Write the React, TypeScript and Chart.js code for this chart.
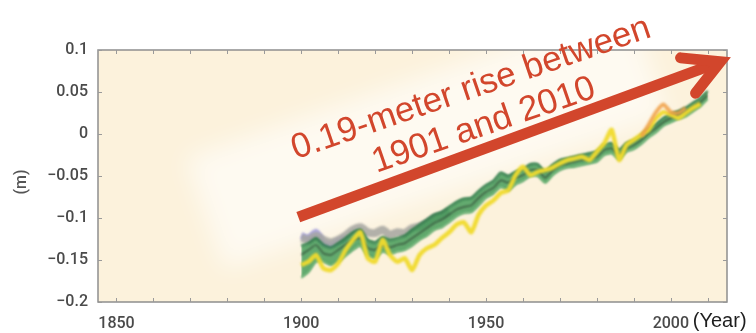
import React, { useEffect, useRef } from 'react';
import { Chart, registerables } from 'chart.js';

Chart.register(...registerables);

// ---------- data ----------
const years = [
  1900, 1902, 1904, 1906, 1908, 1910, 1912, 1914, 1916, 1918,
  1920, 1922, 1924, 1926, 1928, 1930, 1932, 1934, 1936, 1938,
  1940, 1942, 1944, 1946, 1948, 1950, 1952, 1954, 1956, 1958,
  1960, 1962, 1964, 1966, 1968, 1970, 1972, 1974, 1976, 1978,
  1980, 1982, 1984, 1986, 1988, 1990, 1992, 1994, 1996, 1998,
  2000, 2002, 2004, 2006, 2008, 2010,
];

const greenUpper = [
  -0.133, -0.130, -0.124, -0.132, -0.135, -0.130, -0.124, -0.117, -0.114, -0.126,
  -0.129, -0.123, -0.126, -0.124, -0.121, -0.114, -0.108, -0.102, -0.096, -0.093,
  -0.087, -0.081, -0.077, -0.076, -0.068, -0.061, -0.056, -0.046, -0.050, -0.045,
  -0.042, -0.036, -0.036, -0.045, -0.037, -0.031, -0.029, -0.027, -0.025, -0.023,
  -0.021, -0.013, -0.011, -0.019, -0.011, -0.008, -0.002, 0.006, 0.012, 0.019,
  0.024, 0.027, 0.031, 0.037, 0.043, 0.051,
];

const greenLower = [
  -0.171, -0.164, -0.152, -0.152, -0.156, -0.152, -0.145, -0.138, -0.133, -0.145,
  -0.148, -0.140, -0.143, -0.140, -0.138, -0.133, -0.126, -0.121, -0.114, -0.111,
  -0.105, -0.098, -0.094, -0.093, -0.085, -0.076, -0.071, -0.063, -0.067, -0.060,
  -0.056, -0.050, -0.050, -0.058, -0.049, -0.043, -0.040, -0.039, -0.037, -0.035,
  -0.033, -0.025, -0.023, -0.030, -0.021, -0.018, -0.012, -0.004, 0.002, 0.010,
  0.014, 0.018, 0.021, 0.027, 0.033, 0.042,
];

const blackSeries = [
  -0.144, -0.138, -0.132, -0.142, -0.144, -0.138, -0.132, -0.126, -0.124, -0.136,
  -0.138, -0.132, -0.135, -0.132, -0.130, -0.124, -0.118, -0.112, -0.106, -0.102,
  -0.096, -0.090, -0.087, -0.085, -0.076, -0.069, -0.064, -0.055, -0.058, -0.052,
  -0.049, -0.043, -0.043, -0.052, -0.043, -0.037, -0.035, -0.033, -0.031, -0.029,
  -0.027, -0.019, -0.017, -0.025, -0.017, -0.013, -0.007, 0.001, 0.007, 0.014,
  0.019, 0.023, 0.026, 0.032, 0.038, 0.046,
];

const yellowSeries = [
  -0.156, -0.152, -0.144, -0.160, -0.162, -0.154, -0.138, -0.126, -0.117, -0.148,
  -0.152, -0.126, -0.144, -0.152, -0.148, -0.162, -0.144, -0.136, -0.132, -0.124,
  -0.117, -0.108, -0.105, -0.117, -0.096, -0.085, -0.079, -0.070, -0.067, -0.049,
  -0.039, -0.049, -0.045, -0.043, -0.040, -0.035, -0.031, -0.029, -0.027, -0.031,
  -0.021, -0.011, 0.005, -0.031, -0.013, -0.007, -0.001, 0.005, 0.019, 0.026,
  0.023, 0.019, 0.025, 0.031, 0.036, null,
];

const graySeries = [
  -0.124, -0.126, -0.121, -0.126, -0.129, -0.126, -0.121, -0.114, -0.111, -0.117,
  -0.118, -0.114, -0.120, -0.117, -0.118, -0.112, -0.110, -0.106, -0.100, -0.097,
  -0.092, null, null, null, null, null, null, null, null, null,
  null, null, null, null, null, null, null, null, null, null,
  null, null, null, null, null, null, null, null, null, null,
  null, null, null, null, null, null,
];

const purpleSeries = [
  -0.121, -0.124, -0.117, -0.129, -0.132, -0.128, -0.124, null, null, null,
  null, null, null, null, null, null, null, null, null, null,
  null, null, null, null, null, null, null, null, null, null,
  null, null, null, null, null, null, null, null, null, null,
  null, null, null, null, null, null, null, null, null, null,
  null, null, null, null, null, null,
];

const orangeSeries = [
  null, null, null, null, null, null, null, null, null, null,
  null, null, null, null, null, null, null, null, null, null,
  null, null, null, null, null, null, null, null, null, null,
  null, null, null, null, null, null, null, null, null, null,
  null, null, null, null, null, null, -0.003, 0.011, 0.026, 0.035,
  0.026, 0.025, 0.031, null, null, null,
];

const xTickYears = [1850, 1860, 1870, 1880, 1890, 1900, 1910, 1920, 1930, 1940, 1950, 1960, 1970, 1980, 1990, 2000, 2010];
const xLabelYears = [1850, 1900, 1950, 2000];
const yTickValues = [-0.2, -0.15, -0.1, -0.05, 0, 0.05, 0.1];

const annotationLines = ['0.19-meter rise between', '1901 and 2010'];
const yAxisTitle = '(m)';
const xAxisTitle = '(Year)';

// ---------- styling ----------
const X_MIN = 1845;
const X_MAX = 2015.2;
const Y_MIN = -0.2;
const Y_MAX = 0.1;
const PLOT_BG = '#fcf2dc';
const FRAME = '#8e8e8e';
const RED = '#d2462c';
const TICK_FONT = "Roboto, 'Noto Sans', sans-serif";
const ARROW_FROM = { x: 1899.2, y: -0.099 };
const ARROW_TO = { x: 2013.4, y: 0.086 };
const TEXT_ANCHOR = { x: 1946.8, y: 0.043 };

const toPts = (vals: (number | null)[]) => years.map((x, i) => ({ x, y: vals[i] }));

const fmtY = (v: number) => {
  const r = Math.round(v * 100) / 100;
  if (r === 0) return '0';
  return String(r).replace('-', '\u2212');
};

const decorPlugin = {
  id: 'decor',
  beforeDraw(chart: any) {
    const { ctx, chartArea: a } = chart;
    ctx.save();
    ctx.fillStyle = '#ffffff';
    ctx.fillRect(0, 0, chart.width, chart.height);
    ctx.fillStyle = PLOT_BG;
    ctx.fillRect(a.left, a.top, a.right - a.left, a.bottom - a.top);
    ctx.beginPath();
    ctx.rect(a.left, a.top, a.right - a.left, a.bottom - a.top);
    ctx.clip();
    ctx.filter = 'blur(12px)';
    ctx.translate(a.left + 330, a.top + 90);
    ctx.rotate((-19 * Math.PI) / 180);
    ctx.fillStyle = 'rgba(255,255,255,0.6)';
    ctx.fillRect(-235, -62, 470, 118);
    ctx.restore();
  },
  beforeDatasetsDraw(chart: any) {
    chart.ctx.filter = 'blur(0.8px)';
  },
  afterDatasetsDraw(chart: any) {
    const { ctx, chartArea: a, scales } = chart;
    ctx.filter = 'none';
    const xs = scales.x;
    const ys = scales.y;
    ctx.save();
    // frame
    ctx.strokeStyle = FRAME;
    ctx.lineWidth = 1.5;
    ctx.strokeRect(a.left, a.top, a.right - a.left, a.bottom - a.top);
    // inward ticks
    ctx.lineWidth = 1;
    ctx.strokeStyle = '#9a9a9a';
    ctx.beginPath();
    xTickYears.forEach((v) => {
      const px = Math.round(xs.getPixelForValue(v)) + 0.5;
      ctx.moveTo(px, a.bottom);
      ctx.lineTo(px, a.bottom - 4);
      ctx.moveTo(px, a.top);
      ctx.lineTo(px, a.top + 4);
    });
    yTickValues.forEach((v) => {
      const py = Math.round(ys.getPixelForValue(v)) + 0.5;
      ctx.moveTo(a.left, py);
      ctx.lineTo(a.left + 4, py);
      ctx.moveTo(a.right, py);
      ctx.lineTo(a.right - 4, py);
    });
    ctx.stroke();

    // arrow
    const x0 = xs.getPixelForValue(ARROW_FROM.x);
    const y0 = ys.getPixelForValue(ARROW_FROM.y);
    const x1 = xs.getPixelForValue(ARROW_TO.x);
    const y1 = ys.getPixelForValue(ARROW_TO.y);
    const ang = Math.atan2(y1 - y0, x1 - x0);
    ctx.strokeStyle = RED;
    ctx.lineWidth = 11;
    ctx.lineCap = 'butt';
    ctx.beginPath();
    ctx.moveTo(x0, y0);
    ctx.lineTo(x1 - 6 * Math.cos(ang), y1 - 6 * Math.sin(ang));
    ctx.stroke();
    const headLen = 40;
    const back = ang + Math.PI;
    ctx.lineJoin = 'miter';
    ctx.lineCap = 'round';
    ctx.beginPath();
    ctx.moveTo(x1 + headLen * Math.cos(back + 0.45), y1 + headLen * Math.sin(back + 0.45));
    ctx.lineTo(x1, y1);
    ctx.lineTo(x1 + headLen * Math.cos(back - 0.55), y1 + headLen * Math.sin(back - 0.55));
    ctx.stroke();

    // annotation text
    const tx = xs.getPixelForValue(TEXT_ANCHOR.x);
    const ty = ys.getPixelForValue(TEXT_ANCHOR.y);
    ctx.translate(tx, ty);
    ctx.rotate((-19 * Math.PI) / 180);
    ctx.fillStyle = RED;
    ctx.font = "35px 'Liberation Sans', Arial, sans-serif";
    ctx.textAlign = 'center';
    ctx.textBaseline = 'alphabetic';
    annotationLines.forEach((t, i) => ctx.fillText(t, 0, i * 39));
    ctx.restore();

    // axis titles
    ctx.save();
    ctx.fillStyle = '#1e1e1e';
    ctx.font = "20px 'Liberation Sans', Arial, sans-serif";
    ctx.textAlign = 'left';
    ctx.textBaseline = 'middle';
    ctx.fillText(xAxisTitle, xs.getPixelForValue(2000) + 22, a.bottom + 19);
    ctx.translate(22, (a.top + a.bottom) / 2 + 6);
    ctx.rotate(-Math.PI / 2);
    ctx.fillStyle = '#555555';
    ctx.font = `500 16px ${TICK_FONT}`;
    ctx.textAlign = 'center';
    ctx.fillText(yAxisTitle, 0, 0);
    ctx.restore();
  },
};

export default function App() {
  const ref = useRef<HTMLCanvasElement | null>(null);

  useEffect(() => {
    if (!ref.current) return;
    const lineDs = (label: string, vals: (number | null)[], color: string, width: number, order: number, extra: any = {}) => ({
      label,
      data: toPts(vals),
      borderColor: color,
      borderWidth: width,
      pointRadius: 0,
      tension: 0.2,
      fill: false,
      spanGaps: false,
      order,
      ...extra,
    });

    const chart = new Chart(ref.current, {
      type: 'line',
      data: {
        datasets: [
          lineDs('purple', purpleSeries, 'rgba(165,160,220,0.9)', 7, 7),
          lineDs('gray', graySeries, 'rgba(165,165,160,0.85)', 8, 6),
          lineDs('greenUpper', greenUpper, 'rgba(35,115,65,0.85)', 2.5, 5, {
            fill: '+1',
            backgroundColor: 'rgba(55,150,80,0.78)',
          }),
          lineDs('greenLower', greenLower, 'rgba(70,160,90,0.75)', 2, 4),
          lineDs('black', blackSeries, 'rgba(30,35,30,0.6)', 1.5, 3),
          lineDs('yellow', yellowSeries, 'rgba(240,218,45,0.95)', 4.5, 2),
          lineDs('orange', orangeSeries, 'rgba(240,160,70,0.85)', 4, 1),
        ],
      },
      options: {
        responsive: false,
        animation: false,
        devicePixelRatio: 1,
        layout: { padding: { left: 0, top: 50, right: 29, bottom: 0 } },
        plugins: { legend: { display: false }, tooltip: { enabled: false } },
        scales: {
          x: {
            type: 'linear',
            min: X_MIN,
            max: X_MAX,
            afterBuildTicks: (s: any) => {
              s.ticks = xTickYears.map((v) => ({ value: v }));
            },
            afterFit: (s: any) => {
              s.height = 31;
            },
            grid: { display: false, drawTicks: false },
            border: { display: false },
            ticks: {
              autoSkip: false,
              maxRotation: 0,
              padding: 12,
              color: '#4a4a4a',
              font: { family: TICK_FONT, size: 16, weight: '500' },
              callback: (v: any) => (xLabelYears.includes(Number(v)) ? String(v) : ''),
            },
          },
          y: {
            type: 'linear',
            min: Y_MIN,
            max: Y_MAX,
            afterBuildTicks: (s: any) => {
              s.ticks = yTickValues.map((v) => ({ value: v }));
            },
            afterFit: (s: any) => {
              s.width = 98;
            },
            grid: { display: false, drawTicks: false },
            border: { display: false },
            ticks: {
              padding: 10,
              color: '#4a4a4a',
              font: { family: TICK_FONT, size: 16, weight: '500' },
              callback: (v: any) => fmtY(Number(v)),
            },
          },
        },
      },
      plugins: [decorPlugin],
    });
    return () => chart.destroy();
  }, []);

  return (
    <div style={{ position: 'absolute', left: 0, top: 0, width: 756, height: 333 }}>
      <canvas ref={ref} width={756} height={333} style={{ width: 756, height: 333, display: 'block' }} />
    </div>
  );
}
